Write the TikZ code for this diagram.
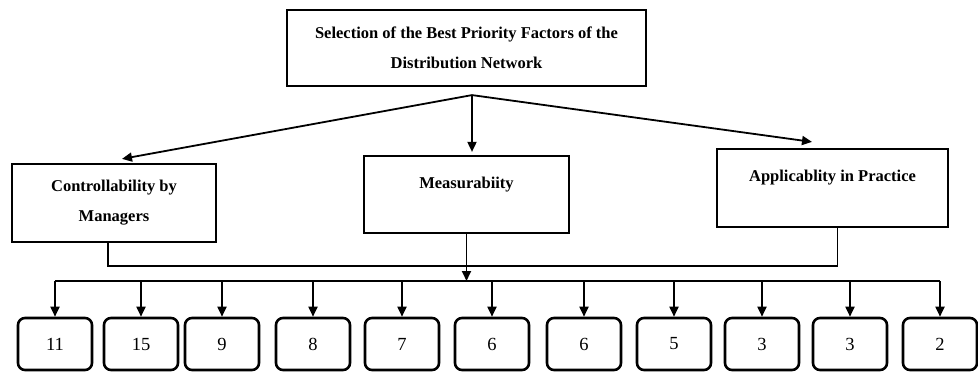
\documentclass[tikz,border=0pt]{standalone}
\usepackage{fontspec}
\setmainfont{Liberation Serif}
\usetikzlibrary{arrows.meta}
\tikzset{
    headbox/.style = {draw, line width = 2.2pt, align = center, inner sep = 0pt,
        font = \fontsize{16.5}{30}\selectfont\bfseries},
    numbox/.style = {draw, line width = 2.6pt, rounded corners = 7pt, inner sep = 0pt,
        minimum width = 74pt, minimum height = 52pt, font = \fontsize{18.5}{20}\selectfont},
    arr/.style = {line width = 1.8pt, -{Triangle[length = 10pt, width = 9pt]}},
    link/.style = {line width = 1.8pt}
}

\begin{document}
\begin{tikzpicture}[x = 1pt, y = -1pt]
    \useasboundingbox (0, 0) rectangle (978, 372);

    % draw goal box
    \node[headbox, minimum width = 359pt, minimum height = 76pt] (goal) at (466.5, 48)
        {Selection of the Best Priority Factors of the\\Distribution Network};

    % draw criteria boxes
    \node[headbox, minimum width = 204pt, minimum height = 78pt] (ctrl) at (114, 203)
        {Controllability by\\Managers};
    \node[headbox, minimum width = 205pt, minimum height = 77pt, text depth = 23pt] (meas) at (466.5, 194.5)
        {Measurabiity};
    \node[headbox, minimum width = 231pt, minimum height = 78pt, text depth = 25pt] (appl) at (832.5, 188)
        {Applicablity in Practice};

    % draw arrows from goal to criteria
    \coordinate (apex) at ([xshift = 5.5pt, yshift = -8pt]goal.south);
    \draw[arr] (apex) -- ([xshift = 8pt, yshift = 4pt]ctrl.north);
    \draw[arr] (apex) -- ([xshift = 5.5pt, yshift = 3pt]meas.north);
    \draw[arr] (apex) -- ([xshift = -20.5pt, yshift = 6pt]appl.north);

    % draw line joining the criteria
    \coordinate (join) at (466.5, 266);
    \draw[link] ([xshift = -6pt]ctrl.south) |- (join) -| ([xshift = 5pt]appl.south);

    % draw factor boxes
    \foreach \x/\n [count = \i] in {55/11, 141/15, 222/9, 313/8, 402/7, 492/6,
                                    584/6, 674/5, 762/3, 850/3, 940/2}
        \node[numbox] (b\i) at (\x, 344) {\n};

    % draw bus and arrows to the factors
    \coordinate (busL) at (b1.north |- 0, 281);
    \coordinate (busR) at (b11.north |- 0, 281);
    \draw[link] (busL) -- (busR);
    \draw[arr] (meas.south) -- (meas.south |- busL);
    \foreach \i in {1, ..., 11}
        \draw[arr] (busL -| b\i.north) -- (b\i.north);

\end{tikzpicture}
\end{document}
